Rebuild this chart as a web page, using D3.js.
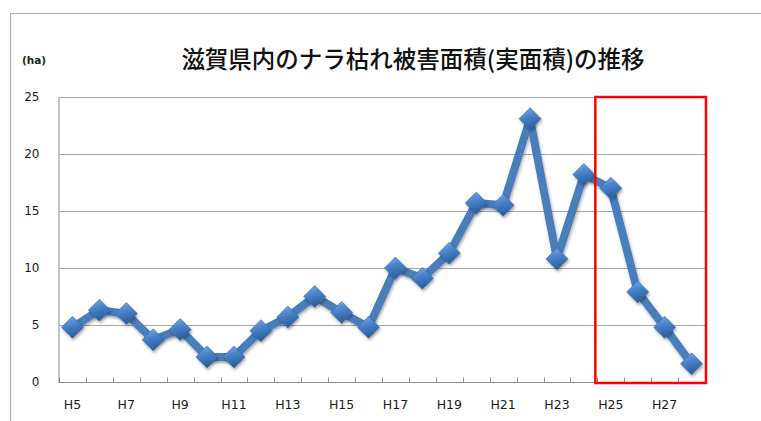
<!DOCTYPE html>
<html>
<head>
<meta charset="utf-8">
<script src="https://cdn.jsdelivr.net/npm/d3@7"></script>
<style>
  html, body { margin: 0; padding: 0; background: #fff; }
  svg { display: block; }
</style>
</head>
<body>
<svg id="chart" width="761" height="421"></svg>
<script>
// Oak wilt damage area in Shiga (actual area, ha), fiscal years H5–H28
const years = ["H5","H6","H7","H8","H9","H10","H11","H12","H13","H14","H15","H16",
               "H17","H18","H19","H20","H21","H22","H23","H24","H25","H26","H27","H28"];
const areaHa = [4.8, 6.3, 6.0, 3.7, 4.6, 2.2, 2.2, 4.5, 5.7, 7.5, 6.1, 4.8,
                10.0, 9.1, 11.3, 15.7, 15.5, 23.1, 10.8, 18.2, 17.0, 7.9, 4.8, 1.6];
const yTicks = [0, 5, 10, 15, 20, 25];
const xLabelYears = ["H5","H7","H9","H11","H13","H15","H17","H19","H21","H23","H25","H27"];
const highlightYears = ["H25", "H28"];

const title = "滋賀県内のナラ枯れ被害面積(実面積)の推移";
const unitLabel = "(ha)";

const svg = d3.select("#chart");
const plot = { left: 59, right: 705, top: 97, bottom: 382 };

const x = d3.scaleBand().domain(years).range([plot.left, plot.right]).padding(0);
const y = d3.scaleLinear().domain([0, 25]).range([plot.bottom, plot.top]);
const cx = d => x(d) + x.bandwidth() / 2;

// gradient + shadow for the bevelled diamond markers
const defs = svg.append("defs");
const grad = defs.append("linearGradient").attr("id", "diamondFill")
  .attr("x1", "0").attr("y1", "0").attr("x2", "0.3").attr("y2", "1");
grad.append("stop").attr("offset", "0%").attr("stop-color", "#7fb0e8");
grad.append("stop").attr("offset", "45%").attr("stop-color", "#4a85cc");
grad.append("stop").attr("offset", "100%").attr("stop-color", "#2c5e9e");
const shadow = defs.append("filter").attr("id", "shadow")
  .attr("x", "-30%").attr("y", "-30%").attr("width", "160%").attr("height", "160%");
shadow.append("feDropShadow").attr("dx", 1).attr("dy", 2).attr("stdDeviation", 1.5)
  .attr("flood-color", "#000").attr("flood-opacity", 0.35);

// outer chart frame (top and left edges)
svg.append("path")
  .attr("d", "M10.5,421 L10.5,13.5 L761,13.5")
  .attr("fill", "none").attr("stroke", "#b0b0b0").attr("stroke-width", 1.2);

// horizontal gridlines
svg.append("g").selectAll("line")
  .data(yTicks.filter(t => t > 0))
  .join("line")
  .attr("x1", plot.left).attr("x2", plot.right)
  .attr("y1", d => Math.round(y(d)) + 0.5).attr("y2", d => Math.round(y(d)) + 0.5)
  .attr("stroke", "#a6a6a6").attr("stroke-width", 1);

// y axis
const yAxis = svg.append("g").attr("transform", `translate(${plot.left - 0.5},0)`)
  .call(d3.axisLeft(y).tickValues(yTicks).tickSize(0).tickPadding(19));
yAxis.select(".domain").attr("stroke", "#8c8c8c");
yAxis.selectAll("text")
  .attr("font-family", "'DejaVu Sans', Verdana, sans-serif")
  .attr("font-size", 12).attr("fill", "#1a1a1a");

// x axis with inward tick marks on category boundaries
const xAxisG = svg.append("g").attr("transform", `translate(0,${plot.bottom + 0.5})`);
xAxisG.append("line").attr("x1", plot.left - 0.5).attr("x2", plot.right)
  .attr("stroke", "#8c8c8c");
xAxisG.selectAll("line.tick")
  .data(years.concat(["end"]))
  .join("line").attr("class", "tick")
  .attr("x1", (d, i) => Math.round(plot.left + i * x.bandwidth()) + 0.5)
  .attr("x2", (d, i) => Math.round(plot.left + i * x.bandwidth()) + 0.5)
  .attr("y1", 0).attr("y2", -5)
  .attr("stroke", "#8c8c8c");
xAxisG.selectAll("text")
  .data(xLabelYears)
  .join("text")
  .attr("x", d => cx(d)).attr("y", 26)
  .attr("text-anchor", "middle")
  .attr("font-family", "'DejaVu Sans', Verdana, sans-serif")
  .attr("font-size", 12.5).attr("fill", "#1a1a1a")
  .text(d => d);

// series line
const line = d3.line().x((d, i) => cx(years[i])).y(d => y(d));
svg.append("path").datum(areaHa)
  .attr("d", line)
  .attr("fill", "none")
  .attr("stroke", "#4a7ebb").attr("stroke-width", 8)
  .attr("stroke-linejoin", "round")
  .attr("filter", "url(#shadow)");

// diamond markers
const r = 11;
svg.append("g").selectAll("path")
  .data(areaHa)
  .join("path")
  .attr("d", (d, i) => {
    const px = cx(years[i]), py = y(d);
    return `M${px},${py - r} L${px + r},${py} L${px},${py + r} L${px - r},${py} Z`;
  })
  .attr("fill", "url(#diamondFill)")
  .attr("stroke", "#3a6aa8").attr("stroke-width", 0.6)
  .attr("filter", "url(#shadow)");

// title and unit label
svg.append("text")
  .attr("x", 413).attr("y", 68)
  .attr("text-anchor", "middle")
  .attr("font-family", "'Noto Sans CJK JP', sans-serif")
  .attr("font-size", 23.5).attr("font-weight", 500).attr("fill", "#111")
  .text(title);

svg.append("text")
  .attr("x", 22).attr("y", 64)
  .attr("font-family", "'DejaVu Sans', Verdana, sans-serif")
  .attr("font-size", 10.5).attr("font-weight", "bold").attr("fill", "#222")
  .text(unitLabel);

// highlight box around the recent years
const hx0 = x(highlightYears[0]), hx1 = x(highlightYears[1]) + x.bandwidth();
svg.append("rect")
  .attr("x", hx0 - 2).attr("y", plot.top)
  .attr("width", hx1 - hx0 + 3).attr("height", plot.bottom - plot.top + 1)
  .attr("fill", "none").attr("stroke", "#ff0000").attr("stroke-width", 2.5);
</script>
</body>
</html>
